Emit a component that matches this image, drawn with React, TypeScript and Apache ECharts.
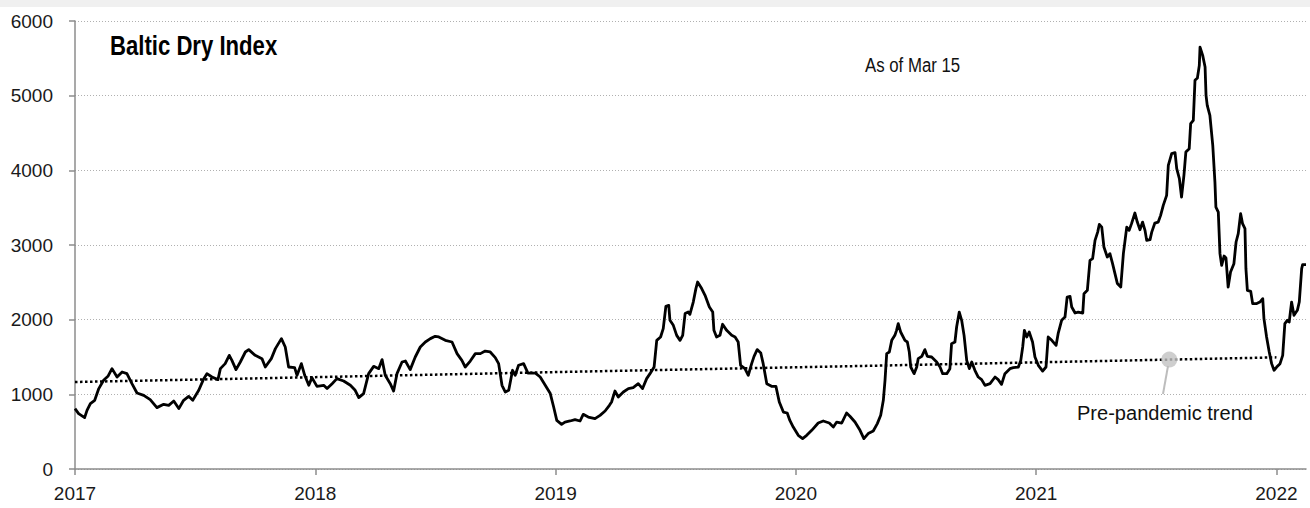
import React, { useEffect, useRef } from "react";
import * as echarts from "echarts";

const FONT = "'Liberation Sans', Arial, sans-serif";

const tickYears = [2017, 2018, 2019, 2020, 2021, 2022];
const axisMinYear = 2017;
const axisMaxYear = 2022.123;

// Baltic Dry Index (x in decimal years)
const bdiDates = [
  2017.000, 2017.015, 2017.040, 2017.050, 2017.064, 2017.082, 2017.099, 2017.119, 2017.137, 2017.154,
  2017.175, 2017.196, 2017.216, 2017.237, 2017.258, 2017.286, 2017.313, 2017.341, 2017.369, 2017.390,
  2017.411, 2017.432, 2017.452, 2017.473, 2017.490, 2017.515, 2017.536, 2017.549, 2017.570, 2017.595,
  2017.605, 2017.625, 2017.642, 2017.653, 2017.670, 2017.688, 2017.709, 2017.723, 2017.750, 2017.778,
  2017.792, 2017.817, 2017.834, 2017.859, 2017.875, 2017.889, 2017.914, 2017.924, 2017.942, 2017.956,
  2017.973, 2017.986, 2018.007, 2018.035, 2018.049, 2018.070, 2018.090, 2018.118, 2018.146, 2018.166,
  2018.181, 2018.201, 2018.222, 2018.243, 2018.264, 2018.278, 2018.291, 2018.312, 2018.326, 2018.340,
  2018.361, 2018.375, 2018.395, 2018.416, 2018.437, 2018.458, 2018.479, 2018.499, 2018.514, 2018.541,
  2018.569, 2018.590, 2018.610, 2018.624, 2018.645, 2018.666, 2018.687, 2018.707, 2018.728, 2018.749,
  2018.763, 2018.777, 2018.791, 2018.805, 2018.821, 2018.832, 2018.846, 2018.867, 2018.885, 2018.916,
  2018.936, 2018.957, 2018.978, 2018.992,
  2019.005, 2019.025, 2019.039, 2019.060, 2019.081, 2019.102, 2019.115, 2019.136, 2019.164, 2019.185,
  2019.206, 2019.224, 2019.233, 2019.247, 2019.261, 2019.282, 2019.303, 2019.323, 2019.344, 2019.362,
  2019.379, 2019.393, 2019.410, 2019.421, 2019.437, 2019.448, 2019.459, 2019.471, 2019.476, 2019.490,
  2019.504, 2019.518, 2019.529, 2019.539, 2019.552, 2019.559, 2019.573, 2019.584, 2019.591, 2019.608,
  2019.622, 2019.640, 2019.654, 2019.659, 2019.670, 2019.684, 2019.695, 2019.712, 2019.733, 2019.747,
  2019.760, 2019.770, 2019.788, 2019.802, 2019.816, 2019.826, 2019.839, 2019.854, 2019.864, 2019.879,
  2019.899, 2019.917, 2019.931, 2019.948, 2019.964, 2019.975, 2019.989,
  2020.010, 2020.028, 2020.045, 2020.066, 2020.093, 2020.114, 2020.139, 2020.156, 2020.170, 2020.191,
  2020.211, 2020.225, 2020.246, 2020.267, 2020.283, 2020.301, 2020.322, 2020.339, 2020.353, 2020.364,
  2020.371, 2020.378, 2020.389, 2020.399, 2020.412, 2020.419, 2020.426, 2020.436, 2020.454, 2020.464,
  2020.472, 2020.478, 2020.492, 2020.503, 2020.509, 2020.524, 2020.537, 2020.547, 2020.565, 2020.586,
  2020.600, 2020.611, 2020.628, 2020.641, 2020.648, 2020.662, 2020.669, 2020.680, 2020.690, 2020.700,
  2020.711, 2020.722, 2020.732, 2020.745, 2020.759, 2020.773, 2020.787, 2020.808, 2020.829, 2020.842,
  2020.856, 2020.870, 2020.891, 2020.905, 2020.926, 2020.936, 2020.944, 2020.951, 2020.961, 2020.971,
  2020.985, 2020.995,
  2021.009, 2021.027, 2021.041, 2021.050, 2021.065, 2021.083, 2021.092, 2021.106, 2021.120, 2021.129,
  2021.141, 2021.148, 2021.162, 2021.175, 2021.194, 2021.199, 2021.213, 2021.224, 2021.235, 2021.245,
  2021.256, 2021.263, 2021.273, 2021.282, 2021.296, 2021.307, 2021.318, 2021.328, 2021.338, 2021.352,
  2021.363, 2021.377, 2021.387, 2021.397, 2021.411, 2021.421, 2021.432, 2021.443, 2021.453, 2021.460,
  2021.474, 2021.481, 2021.494, 2021.508, 2021.518, 2021.529, 2021.543, 2021.550, 2021.564, 2021.578,
  2021.585, 2021.596, 2021.605, 2021.615, 2021.623, 2021.637, 2021.643, 2021.654, 2021.661, 2021.671,
  2021.679, 2021.682, 2021.693, 2021.703, 2021.707, 2021.712, 2021.723, 2021.735, 2021.744, 2021.748,
  2021.758, 2021.765, 2021.772, 2021.782, 2021.790, 2021.799, 2021.809, 2021.823, 2021.832, 2021.841,
  2021.851, 2021.859, 2021.869, 2021.873, 2021.879, 2021.893, 2021.901, 2021.918, 2021.931, 2021.943,
  2021.948, 2021.959, 2021.970, 2021.980, 2021.990,
  2022.001, 2022.015, 2022.026, 2022.035, 2022.045, 2022.053, 2022.063, 2022.073, 2022.087, 2022.095,
  2022.105, 2022.109, 2022.123,
];

const bdiValues = [
  809, 742, 688, 786, 876, 920, 1077, 1188, 1241, 1344,
  1232, 1299, 1277, 1143, 1018, 987, 929, 822, 866, 853,
  910, 809, 920, 973, 920, 1054, 1210, 1277, 1232, 1197,
  1344, 1411, 1522, 1455, 1331, 1433, 1567, 1599, 1522, 1478,
  1366, 1478, 1612, 1746, 1634, 1366, 1358, 1255, 1411, 1255,
  1121, 1224, 1107, 1121, 1077, 1143, 1210, 1178, 1121, 1054,
  956, 1010, 1277, 1375, 1344, 1465, 1255, 1143, 1044, 1277,
  1433, 1446, 1331, 1500, 1634, 1701, 1746, 1777, 1768, 1723,
  1701, 1545, 1455, 1366, 1446, 1545, 1545, 1580, 1567, 1492,
  1411, 1121, 1031, 1054, 1322, 1255, 1389, 1411, 1285, 1285,
  1232, 1121, 1010, 830,
  652, 598, 629, 643, 661, 643, 732, 696, 675, 719,
  777, 853, 897, 1044, 964, 1031, 1077, 1090, 1143, 1077,
  1210, 1277, 1366, 1723, 1768, 1880, 2178, 2192, 1991, 1924,
  1790, 1723, 1790, 2081, 2102, 2072, 2236, 2416, 2504, 2416,
  2326, 2169, 2102, 1857, 1768, 1790, 1938, 1857, 1790, 1768,
  1701, 1389, 1344, 1255, 1411, 1509, 1599, 1553, 1411, 1143,
  1107, 1107, 897, 763, 750, 650, 562,
  451, 407, 451, 518, 616, 643, 616, 562, 629, 616,
  750, 706, 629, 518, 407, 474, 509, 608, 719, 920,
  1188, 1545, 1567, 1723, 1790, 1857, 1947, 1835, 1723, 1701,
  1567, 1366, 1277, 1366, 1478, 1509, 1599, 1509, 1500, 1433,
  1366, 1277, 1277, 1344, 1679, 1701, 1902, 2102, 1991, 1790,
  1455, 1344, 1433, 1322, 1232, 1197, 1121, 1143, 1232, 1197,
  1134, 1277, 1344, 1358, 1366, 1455, 1634, 1857, 1768, 1835,
  1700, 1500,
  1389, 1312, 1366, 1768, 1723, 1656, 1821, 1991, 2035, 2303,
  2312, 2169, 2089, 2102, 2089, 2348, 2393, 2794, 2817, 3062,
  3173, 3277, 3240, 2973, 2839, 2884, 2750, 2616, 2483, 2437,
  2884, 3240, 3196, 3286, 3428, 3307, 3205, 3307, 3196, 3062,
  3072, 3173, 3294, 3307, 3397, 3531, 3665, 4067, 4223, 4237,
  4022, 3888, 3642, 3933, 4245, 4290, 4625, 4669, 5205, 5236,
  5406, 5651, 5540, 5383, 5004, 4870, 4736, 4334, 3843, 3508,
  3441, 2884, 2728, 2852, 2825, 2437, 2638, 2750, 3040, 3152,
  3420, 3286, 3219, 2683, 2393, 2379, 2215, 2215, 2236, 2282,
  2014, 1768, 1567, 1411, 1322,
  1366, 1411, 1522, 1947, 1991, 1968, 2236, 2058, 2125, 2236,
  2683, 2737, 2737,
];

// Pre-pandemic trend (dotted line)
const trendDates = [2017.0, 2018.0, 2019.0, 2020.0, 2021.0, 2022.0];
const trendValues = [1165, 1230, 1298, 1362, 1428, 1495];

// annotation marker on the trend line
const markerPoint = [2021.554, 1465];

export default function App() {
  const ref = useRef<HTMLDivElement>(null);

  useEffect(() => {
    if (!ref.current) return;
    const chart = echarts.init(ref.current, null, { renderer: "svg" });
    const axisColor = "#8c8c8c";
    const bdiData = bdiDates.map((t, i) => [t, bdiValues[i]]);
    const trendData = trendDates.map((t, i) => [t, trendValues[i]]);

    chart.setOption({
      animation: false,
      backgroundColor: "#ffffff",
      grid: { left: 75, right: 4, top: 21, bottom: 39, containLabel: false },
      xAxis: {
        type: "value",
        min: axisMinYear,
        max: axisMaxYear,
        axisLine: { show: true, lineStyle: { color: axisColor, width: 1.5 } },
        axisTick: {
          show: true,
          length: 6,
          customValues: tickYears,
          lineStyle: { color: axisColor, width: 1.5 },
        },
        axisLabel: {
          customValues: tickYears,
          formatter: (v: number) => String(Math.round(v)),
          fontFamily: FONT,
          fontSize: 19,
          color: "#1a1a1a",
          margin: 15,
        },
        splitLine: { show: false },
      },
      yAxis: {
        type: "value",
        min: 0,
        max: 6000,
        interval: 1000,
        axisLine: { show: true, lineStyle: { color: axisColor, width: 1.5 } },
        axisTick: { show: true, length: 6, lineStyle: { color: axisColor, width: 1.5 } },
        axisLabel: {
          formatter: (v: number) => String(v),
          fontFamily: FONT,
          fontSize: 19,
          color: "#1a1a1a",
          margin: 22,
        },
        splitLine: {
          show: true,
          lineStyle: { color: "#b0b0b0", width: 1.2, type: [1, 2] },
        },
      },
      graphic: [
        {
          type: "rect",
          shape: { x: 0, y: 0, width: 1310, height: 7 },
          style: { fill: "#f0f0f0" },
          silent: true,
        },
        {
          type: "text",
          x: 110,
          y: 46,
          scaleX: 0.82,
          style: {
            text: "Baltic Dry Index",
            fontFamily: FONT,
            fontWeight: "bold",
            fontSize: 27,
            fill: "#000000",
            verticalAlign: "middle",
            textVerticalAlign: "middle",
          },
        },
        {
          type: "text",
          x: 865,
          y: 65,
          scaleX: 0.8,
          style: {
            text: "As of Mar 15",
            fontFamily: FONT,
            fontSize: 21,
            fill: "#111111",
            verticalAlign: "middle",
            textVerticalAlign: "middle",
          },
        },
        {
          type: "line",
          shape: { x1: 1168, y1: 366, x2: 1163, y2: 394 },
          style: { stroke: "#bdbdbd", lineWidth: 2 },
          z: 10,
        },
        {
          type: "text",
          x: 1077,
          y: 412,
          scaleX: 0.955,
          style: {
            text: "Pre-pandemic trend",
            fontFamily: FONT,
            fontSize: 21,
            fill: "#111111",
            verticalAlign: "middle",
            textVerticalAlign: "middle",
          },
        },
      ],
      series: [
        {
          name: "Pre-pandemic trend",
          type: "line",
          data: trendData,
          showSymbol: false,
          symbol: "none",
          lineStyle: { color: "#000000", width: 2.5, type: [2.5, 2.5], cap: "butt" },
          z: 2,
          silent: true,
        },
        {
          name: "Baltic Dry Index",
          type: "line",
          data: bdiData,
          showSymbol: false,
          symbol: "none",
          lineStyle: { color: "#000000", width: 2.8, join: "round" },
          z: 3,
          silent: true,
        },
        {
          name: "marker",
          type: "scatter",
          data: [markerPoint],
          symbolSize: 16,
          itemStyle: { color: "#c2c2c2" },
          z: 4,
          silent: true,
        },
      ],
    });

    return () => chart.dispose();
  }, []);

  return (
    <div
      ref={ref}
      style={{ position: "fixed", left: 0, top: 0, width: 1310, height: 508 }}
    />
  );
}
